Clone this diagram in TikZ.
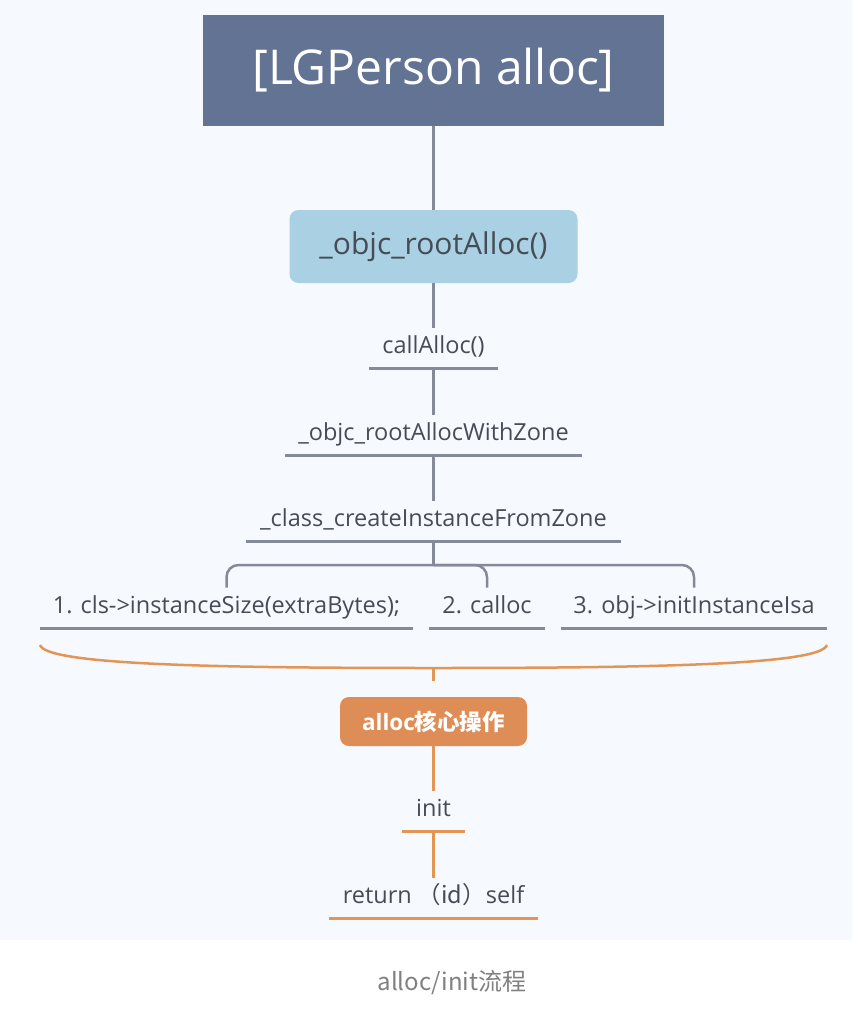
\documentclass[tikz,border=0pt]{standalone}
\usepackage{fontspec}
\setmainfont{Open Sans}
\newfontfamily\cjk{Noto Sans CJK SC}

\definecolor{titleblue}{HTML}{627394}
\definecolor{callblue}{HTML}{A9D0E3}
\definecolor{coreorange}{HTML}{DE8D57}
\definecolor{lineorange}{HTML}{E39556}
\definecolor{linegray}{HTML}{858A98}
\definecolor{textgray}{HTML}{464C56}
\definecolor{paper}{HTML}{F6F9FD}

\newcommand*{\midX}{433.5}
\newcommand*{\rowY}{628}

\begin{document}
\begin{tikzpicture}[x=1pt,y=-1pt,
	grayline/.style={draw=linegray,line width=2.5pt},
	orangeline/.style={draw=lineorange,line width=3pt},
	callitem/.style={anchor=south,inner xsep=0pt,inner ysep=9pt,text height=17pt,text depth=5pt,
		text=textgray,font=\fontsize{23.5}{28}\selectfont}]
	\useasboundingbox (0,0) rectangle (852,1010);
	\fill [paper] (0,0) rectangle (852,940);
	
	% main line
	\node [fill=titleblue,text=white,minimum width=461pt,minimum height=111pt,
		font=\fontsize{48}{56}\selectfont] (alloc) at (\midX,70.5) {[LGPerson alloc]};
	\node [fill=callblue,text=textgray,rounded corners=9pt,minimum width=288pt,minimum height=73pt,
		font=\fontsize{30}{36}\selectfont] (rootAlloc) at (\midX,246.5) {\_objc\_rootAlloc()};
	\node [callitem,minimum width=129pt] (callAlloc) at (\midX,368) {callAlloc()};
	\node [callitem,minimum width=297pt] (withZone) at (\midX,455) {\_objc\_rootAllocWithZone};
	\node [callitem,minimum width=374pt] (fromZone) at (\midX,541) {\_class\_createInstanceFromZone};
	
	% the three steps
	\node [callitem,minimum width=373pt] (sizeStep) at (226.5,\rowY) {1. cls->instanceSize(extraBytes);};
	\node [callitem,minimum width=116pt] (callocStep) at (487,\rowY) {2. calloc};
	\node [callitem,minimum width=266pt] (isaStep) at (694,\rowY) {3. obj->initInstanceIsa};
	
	\foreach \n in {callAlloc,withZone,fromZone,sizeStep,callocStep,isaStep} {
		\draw [grayline,line width=3pt] (\n.south west) -- (\n.south east);
	}
	
	\draw [grayline] (alloc.south) -- (rootAlloc.north);
	\draw [grayline] (rootAlloc.south) -- (callAlloc.north);
	\draw [grayline] (callAlloc.south) -- (withZone.north);
	\draw [grayline] (withZone.south) -- (fromZone.north);
	
	\coordinate (bar) at (\midX,565);
	\draw [grayline] (fromZone.south) -- (bar);
	\draw [grayline,rounded corners=12pt] (sizeStep.north) |- (bar) -| (isaStep.north);
	\draw [grayline,rounded corners=12pt] (bar) -| (callocStep.north);
	
	% alloc core
	\coordinate (braceL) at (40,645);
	\coordinate (braceR) at (827,645);
	\coordinate (brace) at (\midX,668);
	\coordinate (braceTip) at (\midX,681);
	\draw [orangeline,line width=2.5pt] (braceL) .. controls (46,664) and (200,668) .. (brace)
		.. controls (667,668) and (821,664) .. (braceR);
	\draw [orangeline] (brace) -- (braceTip);
	
	\node [fill=coreorange,text=white,rounded corners=9pt,minimum width=187pt,minimum height=49pt,
		font=\fontsize{22.5}{27}\selectfont\bfseries] (core) at (\midX,721.5) {alloc{\cjk\bfseries 核心操作}};
	
	\node [callitem,minimum width=63pt] (init) at (\midX,831) {init};
	\node [callitem,minimum width=208pt] (returnSelf) at (\midX,918) {return {\cjk （id）}self};
	
	\foreach \n in {init,returnSelf} {
		\draw [orangeline] (\n.south west) -- (\n.south east);
	}
	\draw [orangeline] (core.south) -- (init.north);
	\draw [orangeline] (init.south) -- (returnSelf.north);
	
	%\draw [very thin,red] (0,0) grid (852,1010);
	
	\node [text=gray,font=\cjk\fontsize{24}{28}\selectfont] (caption) at (452,983) {alloc/init流程};
	
\end{tikzpicture}
\end{document}
